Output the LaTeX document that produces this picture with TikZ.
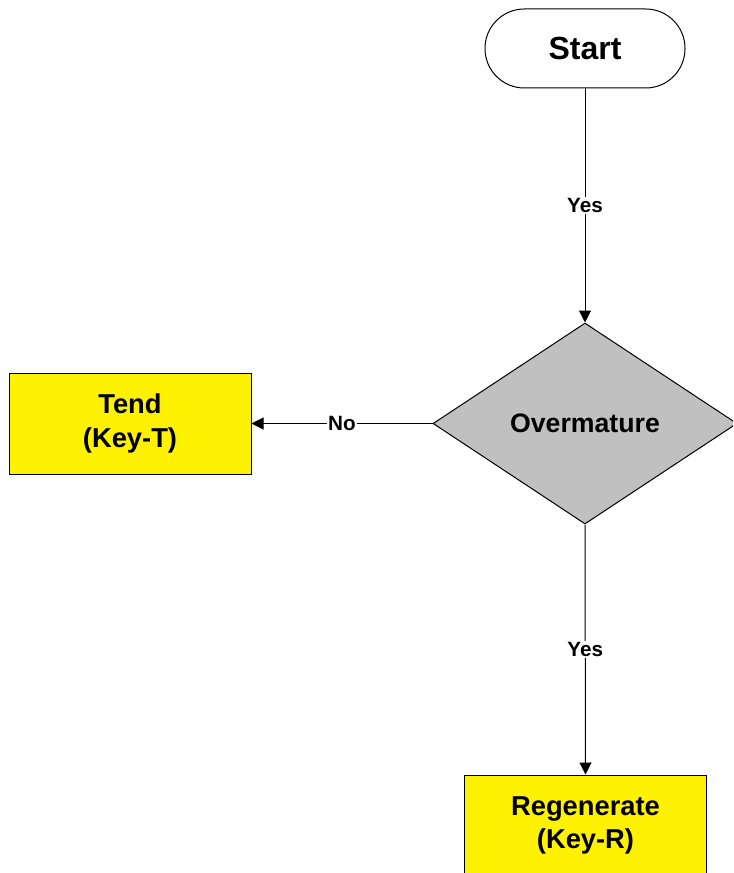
\documentclass[tikz,border=0pt]{standalone}
\usepackage{fontspec}
\setmainfont{Liberation Sans}
\usetikzlibrary{shapes.geometric,arrows.meta}
\tikzset{every picture/.style={line width=0.75pt}}
\tikzset{
  keybox/.style={draw, fill=yellow, minimum width=181.5pt, minimum height=75.75pt, inner sep=0pt, align=center, font=\fontsize{20.5}{25}\selectfont\bfseries},
  startbox/.style={draw, rounded corners=29.5pt, minimum width=150pt, minimum height=59.25pt, inner sep=0pt, font=\fontsize{24}{28}\selectfont\bfseries},
  testbox/.style={draw, diamond, fill={rgb,255:red,192;green,192;blue,192}, minimum width=228pt, minimum height=150.75pt, inner sep=0pt, font=\fontsize{20}{24}\selectfont\bfseries},
  answer/.style={fill=white, inner sep=1pt, font=\fontsize{15.5}{18}\selectfont\bfseries},
  flow/.style={-{Triangle[length=9pt,width=9pt]}}
}

\begin{document}
\begin{tikzpicture}[x=0.75pt,y=0.75pt,yscale=-1,xscale=1]
%set diagram to 733 x 873, right tip and bottom box are cut
\clip (0,0) rectangle (733,873);

%Shape: Terminator
\node [startbox] (start) at (585,48.5) {Start};
%Shape: Decision
\node [testbox] (over) at (585,423.5) {Overmature};
%Shape: Process
\node [keybox] (tend) at (130,423.5) {Tend\\(Key-T)};
%Shape: Process
\node [keybox] (regen) at (585.5,825.5) {Regenerate\\(Key-R)};

%Straight Lines
\draw [flow] (start.south) -- node [answer] {Yes} (over.north);
%Straight Lines
\draw [flow] (over.west) -- node [answer] {No} (tend.east);
%Straight Lines
\draw [flow] (over.south) -- node [answer] {Yes} (regen.north);

\end{tikzpicture}
\end{document}
